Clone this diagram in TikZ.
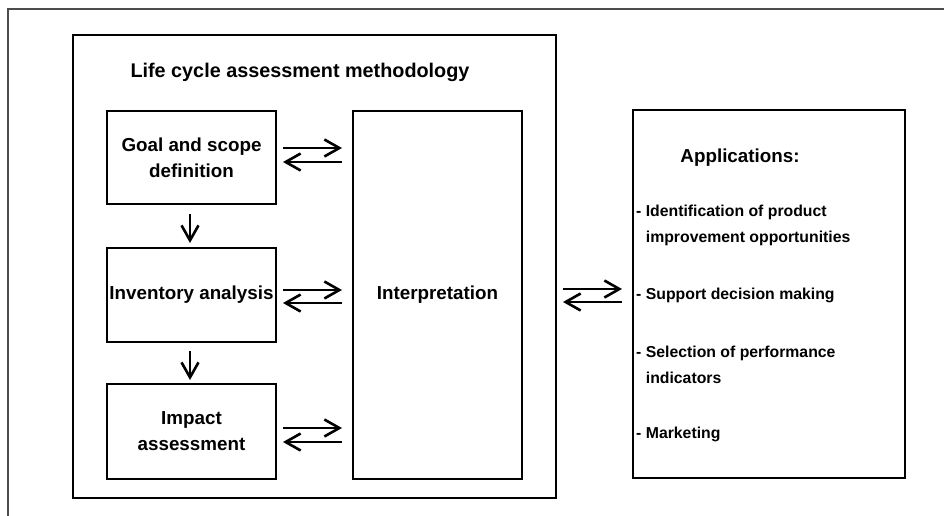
\documentclass[tikz,border=0pt]{standalone}
\usepackage{fontspec}
\setmainfont{Liberation Sans}
\usetikzlibrary{arrows.meta}
\begin{document}
\begin{tikzpicture}[x=1pt,y=-1pt,
  box/.style={draw,line width=2.7pt},
  lbl/.style={font=\bfseries\fontsize{18.8}{26}\selectfont,align=center,inner sep=0pt},
  app/.style={font=\bfseries\fontsize{15.8}{26}\selectfont,align=left,anchor=west,inner sep=0pt},
  arr/.style={line width=2.6pt,-{Straight Barb[length=15pt,width=17pt,line width=2.6pt]}}
]
\useasboundingbox (0,0) rectangle (944,516);
% outer frame
\draw[line width=1.2pt,black!70] (8,516) coordinate (fb) -- (8,9) coordinate (fc) -- (944,9) coordinate (fr);
% main box
\draw[box] (73,35) rectangle (556,498);
\node[font=\bfseries\fontsize{19.8}{24}\selectfont,inner sep=0pt] (title) at (300,72) {Life cycle assessment methodology};
% boxes
\node[box,minimum width=169pt,minimum height=93pt,inner sep=0pt] (goal) at (191.5,157.5) {};
\node[lbl] at (goal) {Goal and scope\\definition};
\node[box,minimum width=169pt,minimum height=94pt,inner sep=0pt] (inv) at (191.5,295) {};
\node[lbl] at (inv) {Inventory analysis};
\node[box,minimum width=169pt,minimum height=95pt,inner sep=0pt] (imp) at (191.5,431.5) {};
\node[lbl] at (imp) {Impact\\assessment};
\node[box,minimum width=169pt,minimum height=368pt,inner sep=0pt] (interp) at (437.5,295) {};
\node[lbl] at (interp) {Interpretation};
\node[box,minimum width=272pt,minimum height=368pt,inner sep=0pt] (apps) at (769,294) {};
\node[font=\bfseries\fontsize{18.8}{24}\selectfont,inner sep=0pt] (apptitle) at (740,158) {Applications:};
\node[app] (a1) at (636,225) {- Identification of product\\\phantom{- }improvement opportunities};
\node[app] (a2) at (636,295) {- Support decision making};
\node[app] (a3) at (636,365) {- Selection of performance\\\phantom{- }indicators};
\node[app] (a4) at (636,434) {- Marketing};
% arrow end points
\coordinate (g1) at (283,148); \coordinate (g2) at (342,148);
\coordinate (g3) at (283,162); \coordinate (g4) at (342,162);
\coordinate (i1) at (283,290); \coordinate (i2) at (342,290);
\coordinate (i3) at (283,303); \coordinate (i4) at (342,303);
\coordinate (m1) at (283,428); \coordinate (m2) at (342,428);
\coordinate (m3) at (283,442); \coordinate (m4) at (342,442);
\coordinate (p1) at (563,289); \coordinate (p2) at (622,289);
\coordinate (p3) at (563,302); \coordinate (p4) at (622,302);
\coordinate (d1) at (190,214); \coordinate (d2) at (190,243);
\coordinate (d3) at (190,351); \coordinate (d4) at (190,380);
% horizontal arrow pairs
\draw[arr] (g1) -- (g2);
\draw[arr] (g4) -- (g3);
\draw[arr] (i1) -- (i2);
\draw[arr] (i4) -- (i3);
\draw[arr] (m1) -- (m2);
\draw[arr] (m4) -- (m3);
\draw[arr] (p1) -- (p2);
\draw[arr] (p4) -- (p3);
% vertical arrows
\draw[arr] (d1) -- (d2);
\draw[arr] (d3) -- (d4);
\end{tikzpicture}
\end{document}
